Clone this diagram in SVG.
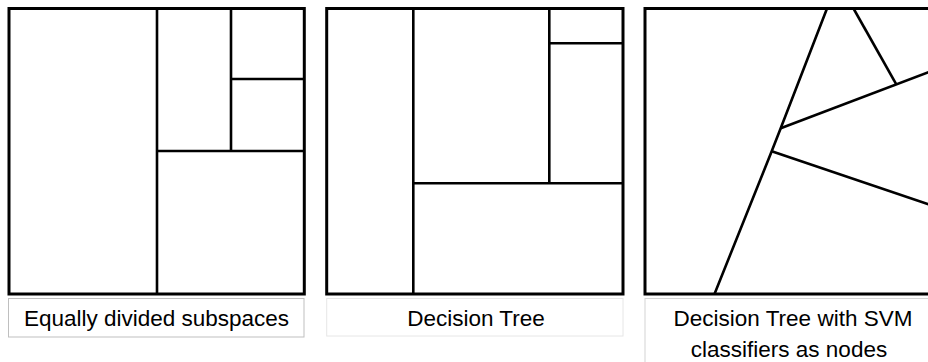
<svg xmlns="http://www.w3.org/2000/svg" width="928" height="362" viewBox="0 0 928 362">
<style>
.frame{fill:none;stroke:#000;stroke-width:3}
.split{fill:none;stroke:#000;stroke-width:2.6;stroke-linecap:butt}
.cap{font-family:"Liberation Sans",Arial,sans-serif;font-size:22.5px;fill:#000;text-anchor:middle}
</style>
<rect width="928" height="362" fill="#fff"/>
<g id="panel-equal">
<rect class="frame" x="9" y="8.5" width="295.3" height="285.5"/>
<g class="split">
<line x1="157" y1="8.5" x2="157" y2="294"/>
<line x1="231" y1="8.5" x2="231" y2="151"/>
<line x1="157" y1="151" x2="304.3" y2="151"/>
<line x1="231" y1="79" x2="304.3" y2="79"/>
</g>
<rect x="8.5" y="298.5" width="295.5" height="38.5" fill="#fff" stroke="#bfbfbf" stroke-width="1"/>
<text class="cap" x="156.5" y="326">Equally divided subspaces</text>
</g>
<g id="panel-tree">
<rect class="frame" x="326.7" y="8.5" width="296.3" height="285.5"/>
<g class="split">
<line x1="413.3" y1="8.5" x2="413.3" y2="294"/>
<line x1="413.3" y1="183.3" x2="623" y2="183.3"/>
<line x1="549.3" y1="8.5" x2="549.3" y2="183.3"/>
<line x1="549.3" y1="43.3" x2="623" y2="43.3"/>
</g>
<rect x="326.7" y="298.5" width="296.3" height="37.5" fill="#fff" stroke="#e6e6e6" stroke-width="1"/>
<text class="cap" x="476" y="326">Decision Tree</text>
</g>
<g id="panel-svm">
<rect class="frame" x="645" y="8.5" width="300" height="285.5"/>
<g class="split" stroke-linejoin="round">
<polyline points="827,8.5 780.7,128.3 771.7,151.2 714.5,294"/>
<line x1="853.5" y1="8.5" x2="896.3" y2="84.3"/>
<line x1="780.7" y1="128.3" x2="935" y2="69.8"/>
<line x1="771.7" y1="151.2" x2="935" y2="206.5"/>
</g>
<rect x="645" y="298.5" width="300" height="80" fill="#fff" stroke="#d4d4d4" stroke-width="1"/>
<text class="cap" x="793" y="326">Decision Tree with SVM</text>
<text class="cap" x="789" y="356.5">classifiers as nodes</text>
</g>
</svg>
